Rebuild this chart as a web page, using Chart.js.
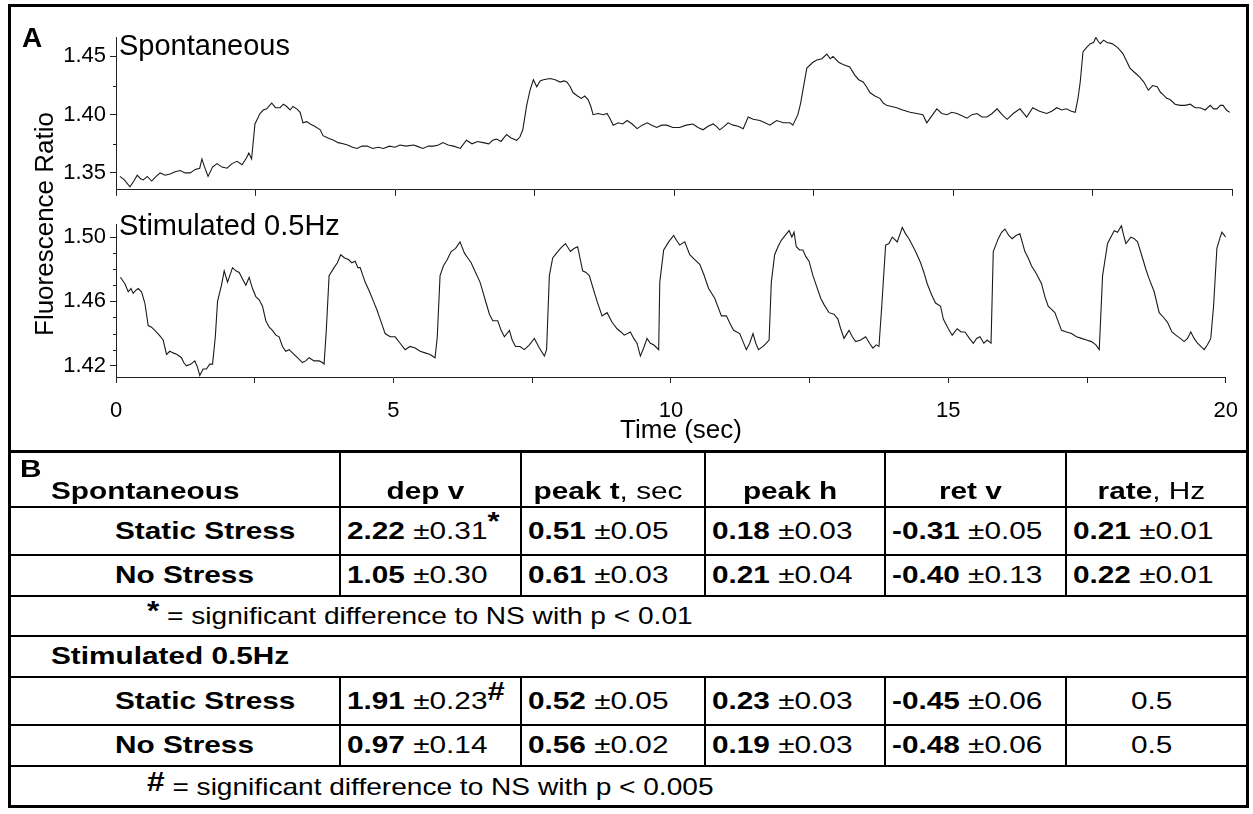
<!DOCTYPE html>
<html>
<head>
<meta charset="utf-8">
<title>Fluorescence ratio traces</title>
<script src="https://cdn.jsdelivr.net/npm/chart.js@4.4.0/dist/chart.umd.min.js"></script>
<style>
  html, body { margin: 0; padding: 0; background: #fff; }
  body { width: 1253px; height: 814px; position: relative; overflow: hidden;
         font-family: "Liberation Sans", Arial, sans-serif; color: #000; }
  #frame { position: absolute; left: 8px; top: 4px; width: 1241px; height: 804px;
           box-sizing: border-box; border: 3px solid #000; }
  canvas { position: absolute; left: 0; }
  #chartTop { top: 20px; }
  #chartBottom { top: 207px; }
  .lbl { position: absolute; white-space: nowrap; line-height: 1; }
  #panelA { left: 22px; top: 24px; font-size: 28px; font-weight: bold; }
  #tagSpont { left: 119px; top: 31px; font-size: 29px; }
  #tagStim { left: 119px; top: 211px; font-size: 29px; }
  #yTitle { left: 44px; top: 224px; font-size: 26px; transform: translate(-50%, -50%) rotate(-90deg); }
  #xTitle { left: 681px; top: 429px; font-size: 26px; transform: translate(-50%, -50%); }

  #stats { position: absolute; left: 11px; top: 450px; width: 1235px; border-collapse: collapse;
           table-layout: fixed; font-size: 24px; line-height: 1; }
  #stats td { border: 2px solid #000; padding: 0 0 0 6px; vertical-align: middle; white-space: nowrap; }
  #stats tr:first-child td { border-top: 3px solid #000; vertical-align: bottom; padding-bottom: 3px; }
  #stats tr:last-child td { border-bottom: none; }
  #stats td:first-child { border-left: none; }
  #stats td:last-child { border-right: none; }
  #stats td.c { text-align: center; padding-left: 0; padding-right: 10px; }
  #stats td.name { padding-left: 104px; }
  #stats td.group { padding-left: 40px; position: relative; }
  #stats td.note { padding-left: 136px; }
  .sx { display: inline-block; transform: scaleX(1.24); transform-origin: 0 50%; }
  td.c .sx { transform-origin: 50% 50%; }
  td.note .sx { transform: scaleX(1.17); }
  .mark { font-weight: bold; position: relative; top: -9px; font-size: 25px; }
  .noteMark { font-weight: bold; font-size: 27px; position: relative; top: -4px; }
  #panelB { position: absolute; left: 9px; top: 4px; font-size: 24px; font-weight: bold; }
</style>
</head>
<body>
<div id="frame"></div>
<canvas id="chartTop" width="1253" height="187"></canvas>
<canvas id="chartBottom" width="1253" height="238"></canvas>
<div class="lbl" id="panelA">A</div>
<div class="lbl" id="tagSpont">Spontaneous</div>
<div class="lbl" id="tagStim">Stimulated 0.5Hz</div>
<div class="lbl" id="yTitle">Fluorescence Ratio</div>
<div class="lbl" id="xTitle">Time (sec)</div>
<table id="stats"></table>

<script>
// time axis (sec)
const timeTicks = [0, 2.5, 5, 7.5, 10, 12.5, 15, 17.5, 20];
const timeLabels = [0, 5, 10, 15, 20];

// spontaneous trace
const spontTime = [
  0.07, 0.15, 0.25, 0.32, 0.38, 0.44, 0.49, 0.56, 0.64, 0.72, 0.79, 0.88, 0.97, 1.06, 1.15, 1.24, 1.33, 1.42, 1.50, 1.54,
  1.58, 1.65, 1.73, 1.81, 1.90, 1.99, 2.08, 2.17, 2.26, 2.34, 2.38, 2.43, 2.49, 2.54, 2.58, 2.64, 2.70, 2.79, 2.86, 2.94,
  3.00, 3.06, 3.12, 3.17, 3.24, 3.30, 3.35, 3.42, 3.48, 3.56, 3.66, 3.71, 3.80, 3.90, 3.98, 4.07, 4.15, 4.24, 4.32, 4.41,
  4.50, 4.60, 4.70, 4.79, 4.90, 5.00, 5.09, 5.20, 5.33, 5.39, 5.50, 5.60, 5.69, 5.78, 5.86, 5.95, 6.05, 6.17, 6.28, 6.38,
  6.48, 6.58, 6.68, 6.75, 6.82, 6.90, 7.00, 7.08, 7.18, 7.24, 7.29, 7.36, 7.42, 7.48, 7.54, 7.60, 7.66, 7.78, 7.87, 7.96,
  8.03, 8.08, 8.14, 8.19, 8.27, 8.34, 8.40, 8.46, 8.51, 8.55, 8.64, 8.73, 8.80, 8.85, 8.91, 9.00, 9.08, 9.16, 9.25, 9.34,
  9.43, 9.52, 9.60, 9.69, 9.78, 9.87, 9.98, 10.10, 10.22, 10.34, 10.43, 10.52, 10.61, 10.70, 10.76, 10.82, 10.90, 10.97, 11.06, 11.15,
  11.24, 11.33, 11.42, 11.54, 11.63, 11.72, 11.78, 11.84, 11.96, 12.08, 12.13, 12.22, 12.27, 12.31, 12.38, 12.49, 12.56, 12.65, 12.74, 12.80,
  12.85, 12.95, 13.03, 13.15, 13.24, 13.31, 13.39, 13.45, 13.51, 13.60, 13.69, 13.75, 13.81, 13.90, 13.99, 14.10, 14.23, 14.35, 14.46, 14.53,
  14.62, 14.71, 14.80, 14.89, 14.98, 15.07, 15.16, 15.25, 15.34, 15.43, 15.52, 15.61, 15.70, 15.79, 15.88, 15.97, 16.08, 16.20, 16.32, 16.43,
  16.55, 16.68, 16.77, 16.86, 16.95, 17.03, 17.12, 17.19, 17.24, 17.28, 17.33, 17.40, 17.46, 17.52, 17.56, 17.60, 17.64, 17.70, 17.76, 17.85,
  17.94, 18.00, 18.05, 18.11, 18.17, 18.26, 18.35, 18.42, 18.50, 18.58, 18.66, 18.72, 18.77, 18.83, 18.89, 18.98, 19.07, 19.16, 19.25, 19.34,
  19.43, 19.52, 19.61, 19.67, 19.73, 19.79, 19.84, 19.90, 19.96
];
const spontRatio = [
  1.347, 1.344, 1.338, 1.343, 1.348, 1.345, 1.344, 1.347, 1.343, 1.347, 1.350, 1.348, 1.349, 1.351, 1.352, 1.350, 1.350, 1.353, 1.354, 1.362,
  1.356, 1.347, 1.355, 1.358, 1.355, 1.354, 1.358, 1.360, 1.357, 1.363, 1.367, 1.362, 1.392, 1.397, 1.401, 1.404, 1.405, 1.410, 1.406, 1.406,
  1.409, 1.407, 1.404, 1.407, 1.405, 1.402, 1.393, 1.394, 1.392, 1.390, 1.387, 1.382, 1.380, 1.378, 1.376, 1.375, 1.374, 1.372, 1.371, 1.373,
  1.373, 1.371, 1.372, 1.371, 1.373, 1.372, 1.374, 1.373, 1.374, 1.373, 1.371, 1.373, 1.373, 1.374, 1.376, 1.374, 1.373, 1.371, 1.378, 1.375,
  1.377, 1.376, 1.375, 1.378, 1.379, 1.377, 1.383, 1.380, 1.378, 1.381, 1.387, 1.408, 1.421, 1.430, 1.424, 1.429, 1.430, 1.431, 1.430, 1.428,
  1.429, 1.428, 1.424, 1.419, 1.416, 1.414, 1.416, 1.413, 1.407, 1.400, 1.401, 1.400, 1.401, 1.397, 1.391, 1.393, 1.392, 1.395, 1.392, 1.388,
  1.391, 1.393, 1.391, 1.389, 1.391, 1.391, 1.389, 1.389, 1.391, 1.392, 1.389, 1.387, 1.390, 1.392, 1.390, 1.387, 1.390, 1.393, 1.391, 1.390,
  1.388, 1.398, 1.396, 1.395, 1.393, 1.391, 1.393, 1.395, 1.393, 1.393, 1.391, 1.400, 1.410, 1.421, 1.440, 1.445, 1.447, 1.448, 1.452, 1.448,
  1.450, 1.445, 1.443, 1.441, 1.434, 1.430, 1.428, 1.424, 1.419, 1.416, 1.414, 1.410, 1.408, 1.407, 1.406, 1.404, 1.402, 1.401, 1.400, 1.393,
  1.399, 1.405, 1.401, 1.400, 1.402, 1.401, 1.399, 1.397, 1.400, 1.401, 1.398, 1.398, 1.401, 1.405, 1.400, 1.396, 1.401, 1.405, 1.398, 1.406,
  1.403, 1.401, 1.403, 1.406, 1.404, 1.405, 1.403, 1.402, 1.414, 1.428, 1.454, 1.458, 1.461, 1.462, 1.4665, 1.463, 1.461, 1.464, 1.462, 1.461,
  1.458, 1.455, 1.452, 1.446, 1.440, 1.436, 1.432, 1.428, 1.421, 1.425, 1.424, 1.419, 1.417, 1.414, 1.413, 1.409, 1.408, 1.408, 1.409, 1.406,
  1.406, 1.404, 1.408, 1.405, 1.405, 1.408, 1.408, 1.404, 1.402
];
const spontTicks = [1.35, 1.40, 1.45];
const spontMinor = [1.375, 1.425];

// stimulated 0.5 Hz trace
const stimTime = [
  0.08, 0.16, 0.22, 0.27, 0.31, 0.36, 0.40, 0.46, 0.52, 0.58, 0.64, 0.70, 0.78, 0.85, 0.91, 0.97, 1.03, 1.10, 1.18, 1.22,
  1.27, 1.35, 1.42, 1.47, 1.51, 1.57, 1.63, 1.69, 1.74, 1.79, 1.83, 1.90, 1.95, 2.01, 2.06, 2.10, 2.16, 2.22, 2.28, 2.34,
  2.40, 2.46, 2.52, 2.58, 2.64, 2.70, 2.76, 2.82, 2.88, 2.94, 3.00, 3.06, 3.12, 3.18, 3.27, 3.36, 3.42, 3.48, 3.57, 3.66,
  3.72, 3.75, 3.79, 3.84, 3.93, 3.99, 4.05, 4.12, 4.19, 4.25, 4.31, 4.36, 4.40, 4.45, 4.49, 4.57, 4.64, 4.70, 4.76, 4.81,
  4.85, 4.94, 5.03, 5.12, 5.21, 5.30, 5.39, 5.48, 5.57, 5.66, 5.75, 5.79, 5.84, 5.90, 5.97, 6.04, 6.12, 6.20, 6.28, 6.34,
  6.40, 6.48, 6.56, 6.62, 6.67, 6.73, 6.79, 6.88, 6.94, 7.00, 7.09, 7.14, 7.20, 7.28, 7.36, 7.45, 7.54, 7.63, 7.72, 7.76,
  7.81, 7.87, 7.94, 8.01, 8.10, 8.19, 8.26, 8.32, 8.41, 8.47, 8.53, 8.60, 8.67, 8.76, 8.85, 8.94, 9.03, 9.10, 9.16, 9.27,
  9.33, 9.39, 9.45, 9.51, 9.57, 9.63, 9.69, 9.78, 9.80, 9.87, 9.96, 10.05, 10.10, 10.16, 10.25, 10.34, 10.43, 10.52, 10.59, 10.68,
  10.79, 10.91, 11.00, 11.07, 11.13, 11.24, 11.30, 11.36, 11.42, 11.48, 11.53, 11.58, 11.66, 11.72, 11.77, 11.81, 11.87, 11.93, 11.99, 12.06,
  12.13, 12.18, 12.22, 12.26, 12.32, 12.38, 12.43, 12.49, 12.56, 12.62, 12.70, 12.76, 12.85, 12.94, 13.01, 13.06, 13.12, 13.21, 13.27, 13.33,
  13.42, 13.51, 13.58, 13.64, 13.70, 13.75, 13.80, 13.87, 13.93, 13.99, 14.08, 14.13, 14.17, 14.23, 14.29, 14.35, 14.41, 14.50, 14.56, 14.62,
  14.70, 14.77, 14.86, 14.91, 15.00, 15.07, 15.16, 15.23, 15.30, 15.38, 15.45, 15.51, 15.57, 15.64, 15.70, 15.77, 15.81, 15.90, 15.96, 16.02,
  16.09, 16.15, 16.22, 16.29, 16.38, 16.44, 16.50, 16.59, 16.68, 16.74, 16.80, 16.86, 16.92, 17.04, 17.13, 17.22, 17.31, 17.40, 17.49, 17.58,
  17.66, 17.72, 17.78, 17.87, 17.93, 17.99, 18.05, 18.12, 18.16, 18.20, 18.29, 18.35, 18.41, 18.50, 18.56, 18.62, 18.71, 18.80, 18.88, 18.95,
  19.03, 19.10, 19.18, 19.25, 19.31, 19.37, 19.43, 19.49, 19.55, 19.61, 19.67, 19.73, 19.78, 19.84, 19.90, 19.93, 20.00
];
const stimRatio = [
  1.475, 1.471, 1.466, 1.468, 1.465, 1.467, 1.468, 1.466, 1.459, 1.445, 1.444, 1.442, 1.439, 1.436, 1.427, 1.429, 1.428, 1.427, 1.425, 1.422,
  1.420, 1.421, 1.423, 1.419, 1.414, 1.418, 1.418, 1.421, 1.421, 1.438, 1.460, 1.470, 1.479, 1.472, 1.477, 1.481, 1.479, 1.478, 1.474, 1.470,
  1.475, 1.468, 1.463, 1.461, 1.457, 1.448, 1.444, 1.442, 1.439, 1.438, 1.432, 1.429, 1.430, 1.428, 1.425, 1.422, 1.423, 1.425, 1.423, 1.423,
  1.422, 1.421, 1.442, 1.476, 1.481, 1.484, 1.489, 1.487, 1.486, 1.484, 1.485, 1.481, 1.481, 1.476, 1.472, 1.466, 1.460, 1.455, 1.449, 1.444,
  1.440, 1.438, 1.438, 1.434, 1.430, 1.432, 1.431, 1.429, 1.428, 1.427, 1.425, 1.438, 1.476, 1.482, 1.486, 1.491, 1.493, 1.497, 1.490, 1.487,
  1.484, 1.478, 1.472, 1.465, 1.459, 1.452, 1.448, 1.448, 1.442, 1.438, 1.442, 1.436, 1.432, 1.432, 1.430, 1.433, 1.437, 1.431, 1.426, 1.430,
  1.476, 1.487, 1.490, 1.493, 1.496, 1.491, 1.493, 1.494, 1.479, 1.478, 1.476, 1.468, 1.460, 1.451, 1.453, 1.447, 1.443, 1.441, 1.439, 1.441,
  1.437, 1.434, 1.426, 1.431, 1.437, 1.434, 1.433, 1.430, 1.472, 1.492, 1.497, 1.501, 1.498, 1.495, 1.497, 1.489, 1.486, 1.483, 1.477, 1.468,
  1.462, 1.451, 1.451, 1.446, 1.442, 1.440, 1.435, 1.430, 1.434, 1.440, 1.434, 1.430, 1.432, 1.434, 1.436, 1.472, 1.489, 1.494, 1.498, 1.501,
  1.504, 1.500, 1.503, 1.494, 1.492, 1.492, 1.488, 1.485, 1.476, 1.470, 1.462, 1.458, 1.453, 1.452, 1.449, 1.443, 1.437, 1.442, 1.438, 1.435,
  1.436, 1.438, 1.434, 1.431, 1.433, 1.432, 1.457, 1.495, 1.496, 1.500, 1.497, 1.502, 1.506, 1.502, 1.499, 1.495, 1.491, 1.484, 1.478, 1.471,
  1.464, 1.459, 1.457, 1.449, 1.443, 1.439, 1.443, 1.441, 1.441, 1.437, 1.434, 1.437, 1.438, 1.434, 1.436, 1.434, 1.491, 1.499, 1.503, 1.505,
  1.501, 1.499, 1.501, 1.502, 1.491, 1.487, 1.482, 1.477, 1.471, 1.463, 1.457, 1.455, 1.453, 1.442, 1.441, 1.440, 1.438, 1.437, 1.436, 1.435,
  1.433, 1.430, 1.476, 1.496, 1.500, 1.504, 1.503, 1.507, 1.501, 1.496, 1.500, 1.499, 1.497, 1.487, 1.480, 1.474, 1.466, 1.453, 1.450, 1.447,
  1.441, 1.439, 1.437, 1.435, 1.437, 1.441, 1.437, 1.434, 1.432, 1.430, 1.433, 1.437, 1.457, 1.493, 1.500, 1.503, 1.500
];
const stimTicks = [1.42, 1.46, 1.50];
const stimMinor = [1.43, 1.44, 1.45, 1.47, 1.48, 1.49];

// summary table: [bold value, ± part, significance mark]
const statHeads = [['dep v', ''], ['peak t', ', sec'], ['peak h', ''], ['ret v', ''], ['rate', ', Hz']];
const spontStatic = [['2.22', '±0.31', '*'], ['0.51', '±0.05'], ['0.18', '±0.03'], ['-0.31', '±0.05'], ['0.21', '±0.01']];
const spontNoStress = [['1.05', '±0.30'], ['0.61', '±0.03'], ['0.21', '±0.04'], ['-0.40', '±0.13'], ['0.22', '±0.01']];
const stimStatic = [['1.91', '±0.23', '#'], ['0.52', '±0.05'], ['0.23', '±0.03'], ['-0.45', '±0.06'], ['', '0.5']];
const stimNoStress = [['0.97', '±0.14'], ['0.56', '±0.02'], ['0.19', '±0.03'], ['-0.48', '±0.06'], ['', '0.5']];

const tickFont = { family: '"Liberation Sans", Arial, sans-serif', size: 22 };

// short unlabeled ticks between the labeled ones on the y axis
const minorTicks = {
  id: 'minorTicks',
  afterDraw(chart, args, opts) {
    const scale = chart.scales.y;
    const ctx = chart.ctx;
    ctx.save();
    ctx.strokeStyle = '#222';
    ctx.lineWidth = 1;
    opts.values.forEach(v => {
      const y = Math.round(scale.getPixelForValue(v)) + 0.5;
      ctx.beginPath();
      ctx.moveTo(scale.right - opts.length, y);
      ctx.lineTo(scale.right, y);
      ctx.stroke();
    });
    ctx.restore();
  }
};

function makeChart(id, time, ratio, yMin, yMax, yTicks, yMinor, showTime, padding, xHeight) {
  const ctx = document.getElementById(id).getContext('2d');
  return new Chart(ctx, {
    type: 'scatter',
    data: {
      datasets: [{
        data: time.map((t, i) => ({ x: t, y: ratio[i] })),
        showLine: true,
        borderColor: '#1a1a1a',
        borderWidth: 1.1,
        pointRadius: 0,
        tension: 0
      }]
    },
    options: {
      responsive: false,
      animation: false,
      events: [],
      layout: { padding: padding },
      plugins: {
        legend: { display: false },
        tooltip: { enabled: false },
        minorTicks: { values: yMinor, length: 3 }
      },
      scales: {
        x: {
          type: 'linear',
          min: 0,
          max: 20,
          afterBuildTicks: s => { s.ticks = timeTicks.map(v => ({ value: v })); },
          afterFit: s => { s.height = xHeight; },
          grid: { drawOnChartArea: false, drawTicks: true, tickLength: 6, tickColor: '#222', tickWidth: 1 },
          border: { display: true, color: '#222', width: 1 },
          ticks: {
            autoSkip: false,
            maxRotation: 0,
            padding: 15,
            color: '#000',
            font: tickFont,
            callback: v => (showTime && timeLabels.includes(v)) ? String(v) : ''
          }
        },
        y: {
          type: 'linear',
          min: yMin,
          max: yMax,
          afterBuildTicks: s => { s.ticks = yTicks.map(v => ({ value: v })); },
          afterFit: s => { s.width = 116; },
          grid: { drawOnChartArea: false, drawTicks: true, tickLength: 6, tickColor: '#222', tickWidth: 1 },
          border: { display: true, color: '#222', width: 1 },
          ticks: {
            padding: 4,
            color: '#000',
            font: tickFont,
            callback: v => v.toFixed(2)
          }
        }
      }
    },
    plugins: [minorTicks]
  });
}

makeChart('chartTop', spontTime, spontRatio, 1.3355, 1.4665, spontTicks, spontMinor, false,
  { top: 11, right: 21, bottom: 0, left: 0 }, 8);
makeChart('chartBottom', stimTime, stimRatio, 1.413, 1.508, stimTicks, stimMinor, true,
  { top: 3, right: 21, bottom: 0, left: 0 }, 68);

// table B
function valueCell(v) {
  if (!v[0]) return '<td class="c"><span class="sx">' + v[1] + '</span></td>';
  const mark = v[2] ? '<span class="mark">' + v[2] + '</span>' : '';
  return '<td><span class="sx"><b>' + v[0] + '</b> ' + v[1] + mark + '</span></td>';
}
function dataRow(name, values) {
  return '<tr style="height:' + (values[0][2] ? 48 : 41) + 'px"><td class="name"><span class="sx"><b>' + name +
    '</b></span></td>' + values.map(valueCell).join('') + '</tr>';
}
function noteRow(mark, text) {
  return '<tr style="height:40px"><td class="note" colspan="6"><span class="sx"><span class="noteMark">' + mark +
    '</span> ' + text + '</span></td></tr>';
}
let html = '<colgroup><col style="width:329px"><col style="width:181px"><col style="width:184px">' +
  '<col style="width:180px"><col style="width:181px"><col style="width:180px"></colgroup>';
html += '<tr style="height:55px"><td class="group"><span class="sx" id="panelB">B</span><span class="sx"><b>Spontaneous</b></span></td>' +
  statHeads.map(h => '<td class="c"><span class="sx"><b>' + h[0] + '</b>' + h[1] + '</span></td>').join('') + '</tr>';
html += dataRow('Static Stress', spontStatic);
html += dataRow('No Stress', spontNoStress);
html += noteRow('*', '= significant difference to NS with p &lt; 0.01');
html += '<tr style="height:41px"><td class="group" colspan="6"><span class="sx"><b>Stimulated 0.5Hz</b></span></td></tr>';
html += dataRow('Static Stress', stimStatic);
html += dataRow('No Stress', stimNoStress);
html += noteRow('#', '= significant difference to NS with p &lt; 0.005');
document.getElementById('stats').innerHTML = html;
</script>
</body>
</html>
